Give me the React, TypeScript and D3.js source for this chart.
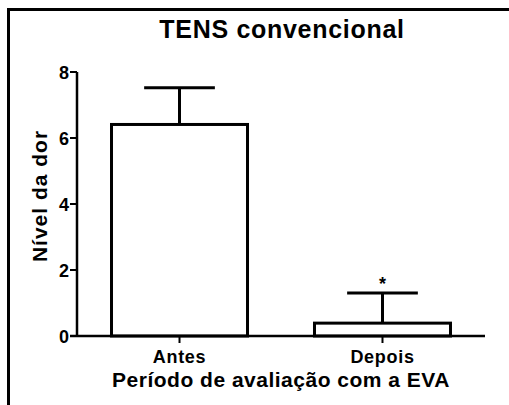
import React from "react";
import * as d3 from "d3";

const categories = ["Antes", "Depois"];
const means = [6.41, 0.39];
const errors = [1.11, 0.91];
const significance = ["", "*"];
const yTicks = [0, 2, 4, 6, 8];

const W = 509;
const H = 405;
const FONT = "'Liberation Sans', Arial, sans-serif";

export default function App() {
  const x = d3.scaleBand<string>().domain(categories).range([77, 485]).paddingInner(0.33).paddingOuter(0.17);
  const y = d3.scaleLinear().domain([0, 8]).range([336, 72]);
  const bw = x.bandwidth();
  const capW = bw * 0.52;

  return (
    <svg width={W} height={H} style={{ position: "absolute", left: 0, top: 0, background: "#fff" }} fontFamily={FONT}>
      <rect x={0} y={0} width={W} height={H} fill="#fff" />
      <path d="M8.5,405 L8.5,9.5 L509,9.5" fill="none" stroke="#000" strokeWidth={3} />
      <text x={282} y={38} textAnchor="middle" fontSize={25} fontWeight="bold" letterSpacing={0.7}>TENS convencional</text>

      {categories.map((c, i) => {
        const x0 = x(c)!;
        const cx = x0 + bw / 2;
        const top = y(means[i]);
        const errTop = y(means[i] + errors[i]);
        return (
          <g key={c}>
            <line x1={cx} x2={cx} y1={top} y2={errTop} stroke="#000" strokeWidth={3} />
            <line x1={cx - capW / 2} x2={cx + capW / 2} y1={errTop} y2={errTop} stroke="#000" strokeWidth={3} />
            <rect x={x0} y={top} width={bw} height={y(0) - top} fill="#fff" stroke="#000" strokeWidth={3} />
            {significance[i] && (
              <text x={cx} y={errTop - 3} textAnchor="middle" fontSize={18} fontWeight="bold">{significance[i]}</text>
            )}
            <line x1={cx} x2={cx} y1={y(0)} y2={y(0) + 7} stroke="#000" strokeWidth={2} />
            <text x={cx} y={363} textAnchor="middle" fontSize={18} fontWeight="bold" letterSpacing={0.7}>{c}</text>
          </g>
        );
      })}

      <line x1={77} x2={77} y1={y(8)} y2={y(0)} stroke="#000" strokeWidth={2.5} />
      <line x1={70} x2={485} y1={y(0)} y2={y(0)} stroke="#000" strokeWidth={2.5} />
      {yTicks.map((t) => (
        <g key={t}>
          <line x1={70} x2={77} y1={y(t)} y2={y(t)} stroke="#000" strokeWidth={2} />
          <text x={69} y={y(t) + 6.5} textAnchor="end" fontSize={18} fontWeight="bold">{t}</text>
        </g>
      ))}

      <text transform={`translate(47,${y(4) - 8}) rotate(-90)`} textAnchor="middle" fontSize={21} fontWeight="bold" letterSpacing={1}>Nível da dor</text>
      <text x={281} y={387} textAnchor="middle" fontSize={21} fontWeight="bold" letterSpacing={0.5}>Período de avaliação com a EVA</text>
    </svg>
  );
}
